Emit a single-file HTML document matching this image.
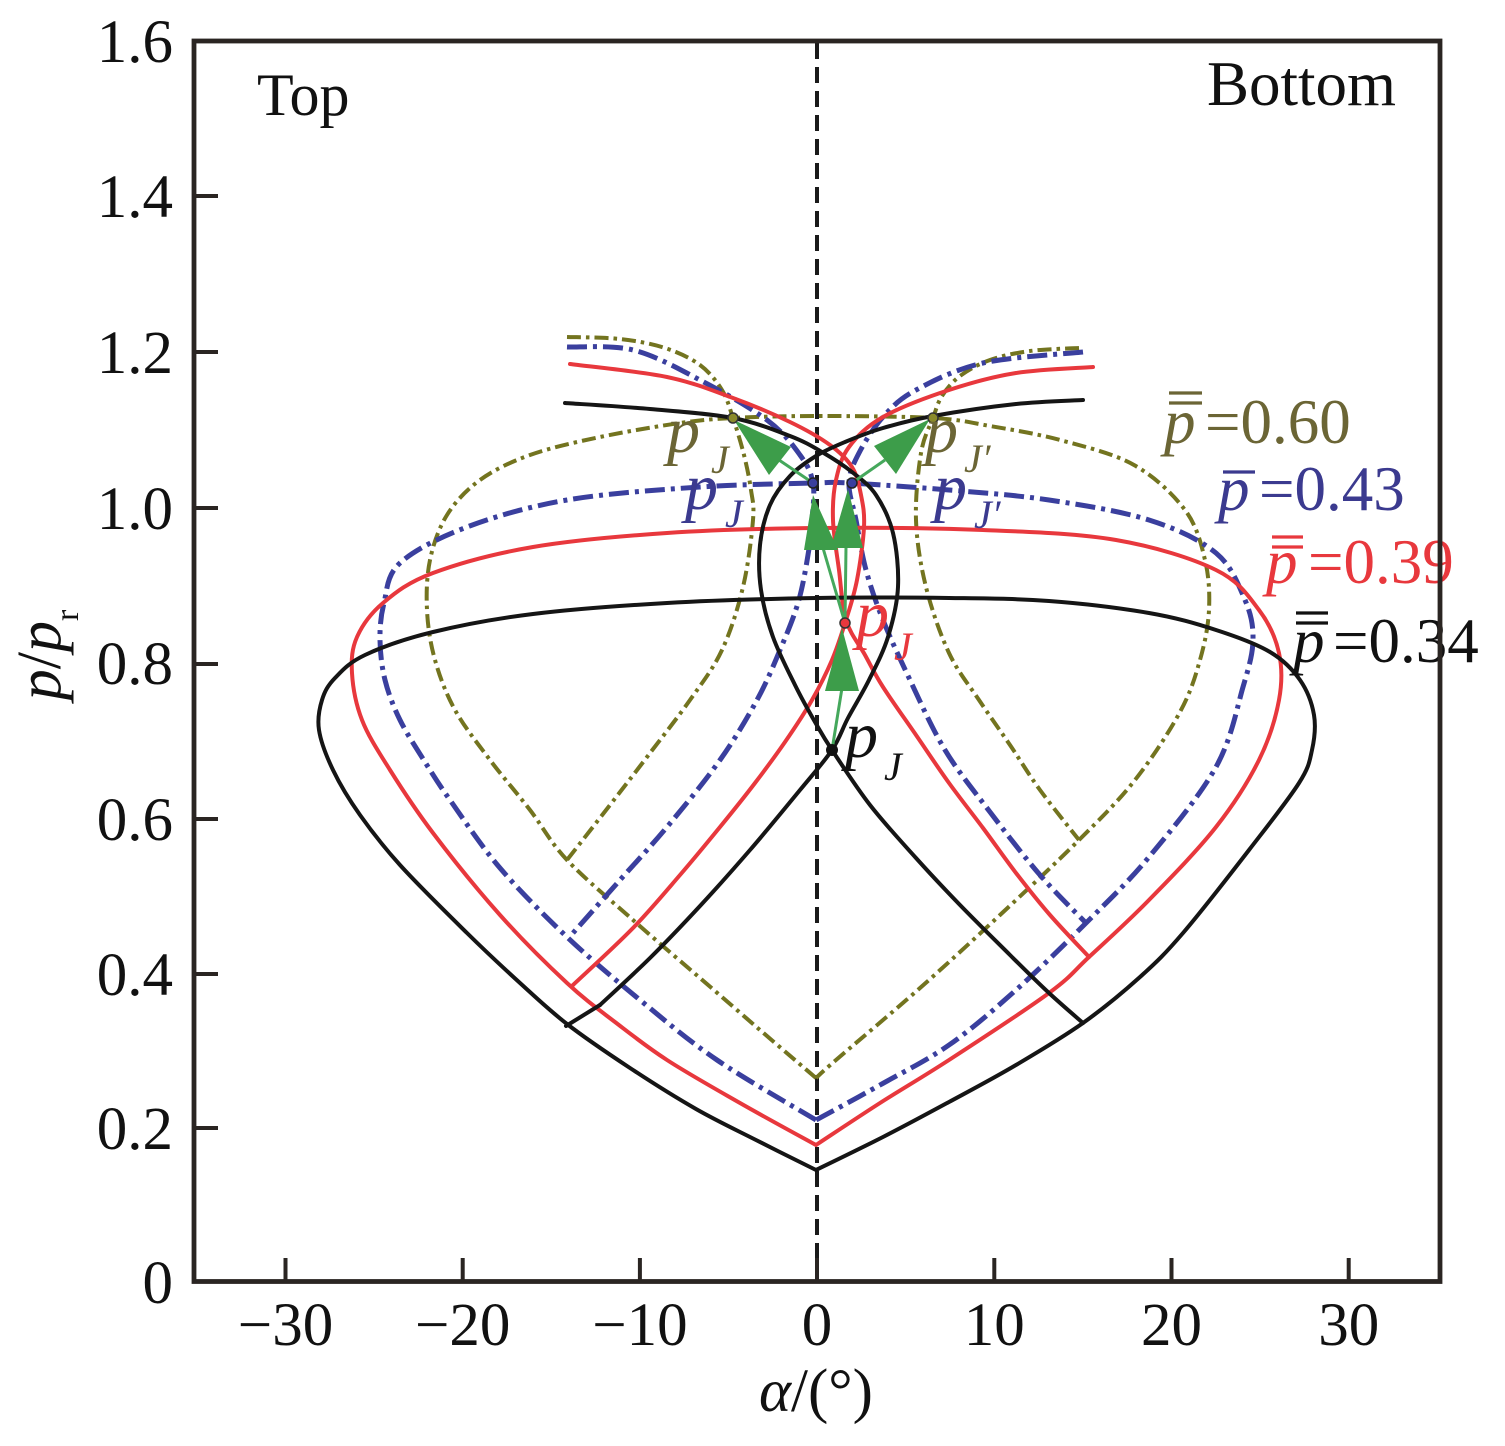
<!DOCTYPE html>
<html><head><meta charset="utf-8">
<style>
html,body{margin:0;padding:0;background:#fff;}
svg{display:block;}
.k{fill:none;stroke:#151515;stroke-width:4;stroke-linejoin:round;stroke-linecap:round}
.r{fill:none;stroke:#e8383d;stroke-width:4;stroke-linejoin:round;stroke-linecap:round}
.b{fill:none;stroke:#3a3f9e;stroke-width:5;stroke-dasharray:20 6 4 6;stroke-linejoin:round}
.o{fill:none;stroke:#73741f;stroke-width:4;stroke-dasharray:14 5 3.5 5;stroke-linejoin:round}
text{font-family:"Liberation Serif","Times New Roman",serif;}
</style></head>
<body>
<svg width="1505" height="1446" viewBox="0 0 1505 1446">
<rect x="0" y="0" width="1505" height="1446" fill="#fff"/>

<!-- vertical dashed line -->
<line x1="817" y1="43" x2="817" y2="1280" stroke="#1a1a1a" stroke-width="4" stroke-dasharray="16 8"/>

<!-- OLIVE p=0.60 -->
<polyline class="c o" points="567,337 620,339 665,348 700,365 722,390 733,418 744,455 751,490 753,520 743,587 722,650 690,700 647,757 610,805 567,860"/>
<polyline class="c o" points="1079,348 1030,351 990,360 960,376 942,396 933,418 921,453 916,520 926,587 949,653 979,700 1010,745 1040,790 1079,840"/>
<polyline class="c o" points="816,1078 760,1030 700,978 633,920 567,860 530,810 490,760 455,710 435,660 427,610 430,560 447,515 480,480 530,455 600,437 680,423 733,418 817,416 933,418 990,426 1060,440 1134,465 1185,510 1205,560 1209,610 1200,660 1180,712 1135,780 1079,840 1000,915 920,988 836,1060 816,1078"/>

<!-- BLUE p=0.43 -->
<polyline class="c b" points="567,347 633,350 700,380 767,420 800,455 813,483 812,520 808,555 798,603 780,650 757,700 720,760 667,827 620,880 573,933"/>
<polyline class="c b" points="1083,352 983,363 916,390 883,417 859,453 849,483 856,520 866,570 883,620 910,680 945,750 990,812 1040,875 1086,923"/>
<polyline class="c b" points="816,1120 717,1060 640,1000 567,937 500,868 450,800 425,762 400,720 385,680 380,640 384,603 400,563 467,527 567,500 700,487 813,483 849,483 949,490 1049,500 1149,520 1216,553 1245,600 1253,640 1243,687 1216,767 1149,857 1086,923 1016,990 949,1045 880,1085 816,1120"/>

<!-- RED p=0.39 -->
<polyline class="c r" points="570,364 667,377 733,398 790,422 830,445 852,467 861,495 864,527 857,580 846,620 832,660 812,700 785,742 755,783 720,827 680,875 633,928 573,985"/>
<polyline class="c r" points="1093,367 1016,373 949,390 883,417 849,447 836,480 833,520 839,570 846,620 865,655 883,687 916,735 949,783 983,828 1016,873 1050,915 1089,957"/>
<polyline class="c r" points="816,1145 740,1103 667,1060 615,1022 567,983 500,915 433,833 390,770 362,720 352,673 357,637 383,603 433,573 533,547 667,533 820,528 983,530 1116,540 1216,570 1259,610 1279,653 1279,700 1259,760 1216,827 1149,900 1089,957 1049,993 949,1060 880,1103 816,1145"/>

<!-- BLACK p=0.34 -->
<polyline class="c k" points="565,403 650,409 733,418 790,436 822,452 852,472 876,495 893,533 898,587 888,637 869,680 848,718 832,750 800,790 750,850 700,906 650,958 600,1005"/>
<polyline class="c k" points="1083,400 1016,404 933,416 883,428 845,442 816,456 790,476 770,505 760,545 761,590 773,637 795,685 815,722 832,750 870,805 916,858 960,905 1010,955 1049,993 1083,1023"/>
<line x1="566" y1="1026" x2="600" y2="1005" stroke="#151515" stroke-width="4" stroke-linecap="round"/>
<polyline class="c k" points="816,1170 756,1140 696,1109 630,1068 567,1024 520,983 467,933 400,865 360,815 333,770 319,730 322,700 335,678 365,655 433,632 533,614 667,603 817,598 949,598 1049,601 1149,613 1216,630 1270,652 1300,680 1314,715 1312,750 1299,783 1249,850 1183,933 1140,977 1083,1023 1016,1065 949,1102 883,1137 816,1170"/>

<!-- green arrows -->
<g stroke="#45a85c" stroke-width="3" fill="none">
<line x1="832" y1="750" x2="842" y2="688"/>
<line x1="845" y1="623" x2="823" y2="548"/>
<line x1="845" y1="623" x2="846" y2="547"/>
<line x1="813" y1="483" x2="779" y2="460"/>
<line x1="852" y1="483" x2="885" y2="460"/>
</g>
<g fill="#3d9d4a">
<polygon points="842,628 825,691 859,691"/>
<polygon points="813,495 804,550 838,550"/>
<polygon points="848,489 831,548 863,548"/>
<polygon points="734,420 769,475 791,447"/>
<polygon points="930,419 874,446 896,474"/>
</g>

<!-- markers -->
<circle cx="733" cy="418" r="5" fill="#8a8a2a" stroke="#333" stroke-width="1.5"/>
<circle cx="933" cy="418" r="5" fill="#8a8a2a" stroke="#333" stroke-width="1.5"/>
<circle cx="813" cy="483" r="5" fill="#3a3f9e" stroke="#222" stroke-width="1.5"/>
<circle cx="852" cy="483" r="5" fill="#3a3f9e" stroke="#222" stroke-width="1.5"/>
<circle cx="845" cy="623" r="5" fill="#e8383d" stroke="#333" stroke-width="1.5"/>
<circle cx="832" cy="750" r="6" fill="#111"/>

<!-- pJ labels -->
<g font-style="italic">
<text x="667" y="452" font-size="66" fill="#6b6535">p</text>
<text x="711" y="473" font-size="40" fill="#6b6535">J</text>
<text x="925" y="452" font-size="66" fill="#6b6535">p</text>
<text x="964" y="472" font-size="40" fill="#6b6535">J′</text>
<text x="685" y="509" font-size="66" fill="#3b3a8f">p</text>
<text x="725" y="527" font-size="40" fill="#3b3a8f">J</text>
<text x="934" y="509" font-size="66" fill="#3b3a8f">p</text>
<text x="974" y="528" font-size="40" fill="#3b3a8f">J′</text>
<text x="856" y="636" font-size="66" fill="#e8383d">p</text>
<text x="894" y="660" font-size="40" fill="#e8383d">J</text>
<text x="845" y="757" font-size="66" fill="#111">p</text>
<text x="884" y="780" font-size="40" fill="#111">J</text>
</g>

<!-- legend labels -->
<g font-size="63">
<text x="1164" y="443" fill="#6b6535" font-style="italic">p</text>
<text x="1205" y="443" fill="#6b6535">=0.60</text>
<text x="1218" y="510" fill="#3b3a8f" font-style="italic">p</text>
<text x="1259" y="510" fill="#3b3a8f">=0.43</text>
<text x="1266" y="583" fill="#e8383d" font-style="italic">p</text>
<text x="1308" y="583" fill="#e8383d">=0.39</text>
<text x="1293" y="662" fill="#111" font-style="italic">p</text>
<text x="1333" y="662" fill="#111">=0.34</text>
</g>
<g stroke-width="3.2">
<line x1="1169" y1="393" x2="1202" y2="393" stroke="#6b6535"/>
<line x1="1169" y1="403" x2="1202" y2="403" stroke="#6b6535"/>
<line x1="1223" y1="472" x2="1255" y2="472" stroke="#3b3a8f"/>
<line x1="1272" y1="537" x2="1303" y2="537" stroke="#e8383d"/>
<line x1="1272" y1="547" x2="1303" y2="547" stroke="#e8383d"/>
<line x1="1296" y1="613" x2="1328" y2="613" stroke="#111"/>
<line x1="1296" y1="623" x2="1328" y2="623" stroke="#111"/>
</g>

<!-- Top / Bottom -->
<text x="257" y="115" font-size="60" fill="#111">Top</text>
<text x="1207" y="105" font-size="63" fill="#111">Bottom</text>

<!-- axes box -->
<rect x="194" y="41" width="1246" height="1240.5" fill="none" stroke="#2a2522" stroke-width="4.8"/>

<!-- ticks -->
<g stroke="#2a2522" stroke-width="4">
<line x1="194" y1="196" x2="218" y2="196"/>
<line x1="194" y1="352" x2="218" y2="352"/>
<line x1="194" y1="508" x2="218" y2="508"/>
<line x1="194" y1="664" x2="218" y2="664"/>
<line x1="194" y1="819" x2="218" y2="819"/>
<line x1="194" y1="974" x2="218" y2="974"/>
<line x1="194" y1="1128" x2="218" y2="1128"/>
<line x1="285.5" y1="1258" x2="285.5" y2="1281"/>
<line x1="462.7" y1="1258" x2="462.7" y2="1281"/>
<line x1="639.9" y1="1258" x2="639.9" y2="1281"/>
<line x1="817" y1="1258" x2="817" y2="1281"/>
<line x1="994.3" y1="1258" x2="994.3" y2="1281"/>
<line x1="1171.5" y1="1258" x2="1171.5" y2="1281"/>
<line x1="1348.7" y1="1258" x2="1348.7" y2="1281"/>
</g>

<!-- y tick labels -->
<g font-size="61" fill="#111" text-anchor="end">
<text x="173" y="62">1.6</text>
<text x="173" y="217">1.4</text>
<text x="173" y="373">1.2</text>
<text x="173" y="529">1.0</text>
<text x="173" y="684">0.8</text>
<text x="173" y="840">0.6</text>
<text x="173" y="995">0.4</text>
<text x="173" y="1149">0.2</text>
<text x="173" y="1303">0</text>
</g>
<!-- x tick labels -->
<g font-size="61" fill="#111" text-anchor="middle">
<text x="285.5" y="1345">−30</text>
<text x="462.7" y="1345">−20</text>
<text x="639.9" y="1345">−10</text>
<text x="817" y="1345">0</text>
<text x="994.3" y="1345">10</text>
<text x="1171.5" y="1345">20</text>
<text x="1348.7" y="1345">30</text>
</g>

<!-- axis titles -->
<text x="816" y="1411" font-size="61" fill="#111" text-anchor="middle"><tspan font-style="italic">α</tspan>/(°)</text>
<g transform="translate(60,655) rotate(-90)">
<text x="0" y="0" font-size="62" fill="#111" text-anchor="middle"><tspan font-style="italic">p</tspan>/<tspan font-style="italic">p</tspan><tspan font-size="34" dy="18">r</tspan></text>
</g>
</svg>
<script>
(function(){
  var pls=document.querySelectorAll('polyline.c');
  for(var n=0;n<pls.length;n++){
    var pl=pls[n];
    var nums=pl.getAttribute('points').trim().split(/[\s,]+/).map(Number);
    var p=[];for(var i=0;i<nums.length;i+=2)p.push([nums[i],nums[i+1]]);
    var d='M'+p[0][0]+','+p[0][1];
    var t=1/6;
    for(var j=0;j<p.length-1;j++){
      var p0=p[j-1]||p[j],p1=p[j],p2=p[j+1],p3=p[j+2]||p[j+1];
      d+=' C'+(p1[0]+(p2[0]-p0[0])*t).toFixed(1)+','+(p1[1]+(p2[1]-p0[1])*t).toFixed(1)+' '+
         (p2[0]-(p3[0]-p1[0])*t).toFixed(1)+','+(p2[1]-(p3[1]-p1[1])*t).toFixed(1)+' '+p2[0]+','+p2[1];
    }
    var path=document.createElementNS(pl.namespaceURI,'path');
    path.setAttribute('class',pl.getAttribute('class'));
    path.setAttribute('d',d);
    pl.parentNode.replaceChild(path,pl);
  }
})();
</script>
</body></html>
